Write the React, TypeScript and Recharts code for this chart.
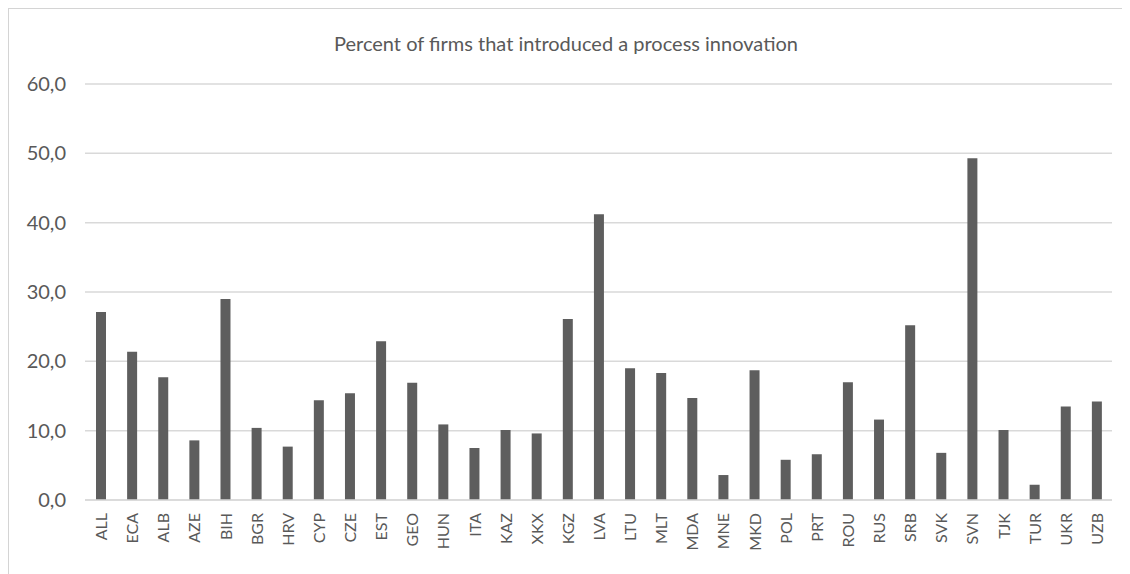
import React from 'react';
import { BarChart, Bar, XAxis, YAxis, CartesianGrid } from 'recharts';

// Country codes along the category axis
const countries = [
  'ALL', 'ECA', 'ALB', 'AZE', 'BIH', 'BGR', 'HRV', 'CYP', 'CZE', 'EST', 'GEO',
  'HUN', 'ITA', 'KAZ', 'XKX', 'KGZ', 'LVA', 'LTU', 'MLT', 'MDA', 'MNE', 'MKD',
  'POL', 'PRT', 'ROU', 'RUS', 'SRB', 'SVK', 'SVN', 'TJK', 'TUR', 'UKR', 'UZB',
];

// Share of firms (%) reporting a process innovation
const shares = [
  27.1, 21.4, 17.7, 8.6, 29.0, 10.4, 7.7, 14.4, 15.4, 22.9, 16.9,
  10.9, 7.5, 10.1, 9.6, 26.1, 41.2, 19.0, 18.3, 14.7, 3.6, 18.7,
  5.8, 6.6, 17.0, 11.6, 25.2, 6.8, 49.3, 10.1, 2.2, 13.5, 14.2,
];

const yTicks = [0, 10, 20, 30, 40, 50, 60];

const title = 'Percent of firms that introduced a process innovation';

const data = countries.map((code, i) => ({ code, share: shares[i] }));

const FONT = 'Lato, "Open Sans", sans-serif';
const TEXT = '#595959';

const fmt = (v: number) => v.toFixed(1).replace('.', ',');

const CountryTick = (props: any) => {
  const { x, y, payload } = props;
  return (
    <text
      x={x}
      y={y}
      transform={`rotate(-90, ${x}, ${y})`}
      textAnchor="end"
      dominantBaseline="central"
      fill={TEXT}
      fontSize={16}
      fontFamily={FONT}
    >
      {payload.value}
    </text>
  );
};

export default function App() {
  return (
    <div
      style={{
        position: 'relative',
        margin: '-1px 0 0 -1px',
        width: 1130,
        height: 567,
        borderTop: '2px solid #d4d4d4',
        borderLeft: '2px solid #d4d4d4',
        background: '#fff',
      }}
    >
      <div
        style={{
          position: 'absolute',
          left: 0,
          top: 22,
          width: 1114,
          textAlign: 'center',
          fontFamily: FONT,
          fontSize: 20,
          color: TEXT,
        }}
      >
        {title}
      </div>
      <BarChart
        width={1130}
        height={565}
        data={data}
        margin={{ top: 75, right: 27, bottom: 14, left: 16 }}
        barSize={10}
      >
        <CartesianGrid vertical={false} stroke="#d9d9d9" strokeWidth={1.5} />
        <XAxis
          dataKey="code"
          interval={0}
          height={60}
          axisLine={{ stroke: '#d9d9d9', strokeWidth: 1.5 }}
          tickLine={false}
          tickSize={0}
          tick={<CountryTick />}
          tickMargin={13}
        />
        <YAxis
          domain={[0, 60]}
          ticks={yTicks}
          width={60}
          axisLine={false}
          tickLine={false}
          tickSize={0}
          tickMargin={19}
          tickFormatter={fmt}
          tick={{ fill: TEXT, fontSize: 20, fontFamily: FONT }}
        />
        <Bar dataKey="share" fill="#5e5e5e" isAnimationActive={false} />
      </BarChart>
    </div>
  );
}
